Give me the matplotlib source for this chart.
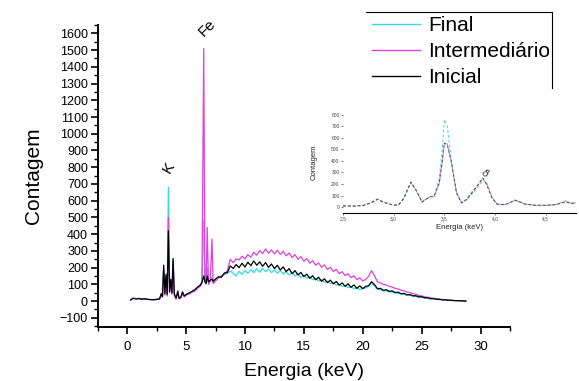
import matplotlib
matplotlib.use("Agg")
import matplotlib.pyplot as plt
from matplotlib.lines import Line2D
from matplotlib.ticker import MultipleLocator

plt.rcParams['font.family'] = ['Liberation Sans', 'DejaVu Sans']

# ---------------- main spectrum data ----------------
energy = [0.3, 0.5, 0.75, 1.0, 1.25, 1.5, 1.75, 2.0, 2.25, 2.5, 2.75, 2.9, 3.0, 3.1, 3.2, 3.3,
          3.4, 3.5, 3.6, 3.7, 3.8, 3.9, 4.0, 4.15, 4.3, 4.4, 4.55, 4.7, 4.85, 5.0, 5.25, 5.5,
          5.75, 6.0, 6.2, 6.35, 6.5, 6.6, 6.7, 6.8, 6.9, 7.05, 7.2, 7.3, 7.5,
          7.75, 8.0, 8.25, 8.5, 8.75, 9.0, 9.25, 9.5, 9.75, 10.0, 10.25, 10.5, 10.75, 11.0,
          11.25, 11.5, 11.75, 12.0, 12.25, 12.5, 12.75, 13.0, 13.25, 13.5, 13.75, 14.0, 14.25,
          14.5, 14.75, 15.0, 15.25, 15.5, 15.75, 16.0, 16.25, 16.5, 16.75, 17.0, 17.25, 17.5,
          17.75, 18.0, 18.25, 18.5, 18.75, 19.0, 19.25, 19.5, 19.75, 20.0, 20.25, 20.5, 20.75,
          21.0, 21.25, 21.5, 21.75, 22.0, 22.25, 22.5, 22.75, 23.0, 23.25, 23.5, 23.75, 24.0,
          24.25, 24.5, 24.75, 25.0, 25.25, 25.5, 25.75, 26.0, 26.25, 26.5, 26.75, 27.0, 27.25,
          27.5, 27.75, 28.0, 28.25, 28.5, 28.75]

final = [5, 18, 14, 15, 12, 13, 9, 10, 7, 11, 14, 40, 25, 200, 40, 150,
         35, 680, 60, 120, 45, 245, 40, 15, 55, 15, 20, 50, 28, 38, 46, 55,
         66, 82, 92, 110, 480, 120, 100, 200, 110, 120, 140, 115, 128,
         140, 150, 158, 165, 180, 165, 150, 178, 160, 182, 166, 188, 170, 194,
         172, 195, 176, 190, 170, 186, 166, 182, 162, 176, 156, 170, 150,
         162, 142, 154, 136, 146, 128, 137, 120, 128, 112, 119, 104, 110,
         95, 101, 87, 93, 80, 86, 73, 80, 68, 76, 78, 88, 108,
         90, 70, 68, 61, 60, 55, 54, 48, 47, 42, 41, 36, 34,
         30, 28, 24, 23, 19, 17, 14, 13, 10, 9, 7, 6, 5,
         4, 3, 2, 2, 1, 0]

intermediario = [8, 15, 16, 12, 14, 10, 11, 8, 9, 9, 12, 35, 22, 190, 35, 140,
                 30, 500, 50, 110, 40, 235, 35, 12, 50, 14, 18, 45, 25, 35, 42, 52,
                 60, 78, 88, 105, 1510, 140, 110, 440, 100, 115, 370, 105, 120,
                 138, 150, 162, 180, 250, 230, 252, 246, 268, 252, 278, 262, 292, 274,
                 302, 284, 312, 286, 306, 282, 304, 278, 298, 270, 288, 260, 278,
                 250, 266, 238, 254, 226, 242, 214, 228, 202, 216, 189, 202, 177,
                 190, 164, 176, 152, 163, 140, 151, 128, 139, 120, 130, 148, 182,
                 150, 115, 108, 100, 96, 88, 84, 76, 72, 65, 61, 54, 50,
                 44, 40, 34, 31, 26, 23, 19, 16, 13, 11, 9, 7, 6,
                 4, 3, 2, 2, 1, 0]

inicial = [6, 17, 12, 16, 11, 14, 10, 9, 8, 10, 13, 45, 28, 215, 45, 160,
           40, 420, 55, 130, 50, 255, 45, 18, 60, 17, 22, 55, 30, 40, 48, 58,
           68, 85, 95, 112, 150, 115, 105, 150, 115, 125, 130, 118, 132,
           145, 142, 168, 170, 210, 195, 218, 200, 226, 204, 232, 212, 240, 214,
           234, 208, 230, 201, 222, 194, 214, 186, 204, 176, 194, 164, 182,
           156, 171, 146, 161, 136, 151, 127, 142, 118, 133, 110, 125, 103,
           117, 95, 109, 88, 103, 82, 97, 76, 91, 74, 88, 92, 116,
           98, 74, 76, 64, 68, 58, 61, 51, 53, 44, 46, 37, 39,
           31, 32, 25, 26, 19, 20, 14, 15, 11, 11, 7, 8, 5,
           5, 3, 3, 2, 1, 0]

# ---------------- inset data ----------------
inset_energy = [2.5, 2.6, 2.7, 2.78, 2.84, 2.9, 3.0, 3.05, 3.1, 3.17, 3.22, 3.28, 3.32, 3.36,
                3.4, 3.45, 3.48, 3.5, 3.53, 3.57, 3.62, 3.67, 3.72, 3.77, 3.83, 3.88, 3.92,
                3.97, 4.02, 4.1, 4.2, 4.3, 4.4, 4.5, 4.6, 4.7, 4.75, 4.8]
inset_final = [10, 8, 15, 40, 70, 45, 15, 20, 80, 215, 150, 45, 70, 90,
               95, 250, 500, 760, 700, 400, 120, 35, 70, 130, 190, 250, 200,
               80, 25, 20, 60, 25, 15, 15, 20, 50, 30, 40]
inset_intermediario = [8, 8, 12, 35, 65, 40, 15, 18, 70, 210, 145, 45, 70, 85,
                       90, 200, 380, 540, 550, 380, 130, 40, 60, 110, 170, 230, 210,
                       90, 25, 20, 58, 25, 15, 15, 20, 55, 35, 35]
inset_inicial = [10, 8, 14, 38, 68, 42, 15, 20, 75, 218, 150, 42, 68, 88,
                 95, 210, 400, 556, 540, 390, 125, 35, 65, 120, 190, 252, 190,
                 80, 25, 20, 60, 25, 15, 15, 20, 45, 30, 38]

labels = ["Final", "Intermediário", "Inicial"]
colors = ["#30dce8", "#e040dc", "#000000"]

W, H = 579, 381
fig = plt.figure(figsize=(W / 100, H / 100), dpi=100)
ax = fig.add_axes([97.7 / W, 1 - 327 / H, (510 - 97.7) / W, (327 - 25) / H])

series = [final, intermediario, inicial]
handles = []
for s, lab, c in zip(series, labels, colors):
    h, = ax.plot(energy, s, color=c, lw=0.9, label=lab)
    handles.append(h)

ax.set_xlim(-2.5, 32.5)
ax.set_ylim(-155, 1650)
ax.xaxis.set_major_locator(MultipleLocator(5))
ax.xaxis.set_minor_locator(MultipleLocator(2.5))
ax.yaxis.set_minor_locator(MultipleLocator(50))
ax.set_yticks(range(-100, 1700, 100))
for sp in ['top', 'right']:
    ax.spines[sp].set_visible(False)
for sp in ['left', 'bottom']:
    ax.spines[sp].set_linewidth(1.4)
ax.tick_params(which='major', direction='out', length=5, width=1.2, labelsize=9,
               colors='black', pad=2)
ax.tick_params(which='minor', direction='out', length=3, width=1.0)
ax.tick_params(axis='x', labelsize=9.5, pad=5)
ax.set_xlabel("Energia (keV)", fontsize=14, labelpad=7)
ax.set_ylabel("Contagem", fontsize=15, labelpad=12)

ax.text(3.5, 800, "K", fontsize=11, rotation=60, ha='center', va='center')
ax.text(6.8, 1630, "Fe", fontsize=11, rotation=45, ha='center', va='center', clip_on=False)

# legend
leg = fig.legend(handles, labels, loc='upper left', bbox_to_anchor=(370 / W, 1 - 14 / H),
                 frameon=False, fontsize=15, handlelength=2.3, handletextpad=0.4,
                 labelspacing=0.34, borderpad=0.1, borderaxespad=0)
for lh in leg.get_lines():
    lh.set_linewidth(1.0)
fig.add_artist(Line2D([366 / W, 552 / W], [1 - 12 / H, 1 - 12 / H], color='black', lw=0.8,
                      transform=fig.transFigure))
fig.add_artist(Line2D([552 / W, 552 / W], [1 - 12 / H, 1 - 88 / H], color='black', lw=0.8,
                      transform=fig.transFigure))

# inset
ax2 = fig.add_axes([343 / W, 1 - 213 / H, 233 / W, 101.5 / H])
ax2.patch.set_alpha(0)
inset_series = [inset_final, inset_intermediario, inset_inicial]
inset_colors = ["#50d0e0", "#e080d8", "#505050"]
for s, c in zip(inset_series, inset_colors):
    ax2.plot(inset_energy, s, color=c, lw=0.7, ls=(0, (3, 2)))
ax2.set_xlim(2.5, 4.8)
ax2.set_ylim(-52, 830)
ax2.set_xticks([2.5, 3.0, 3.5, 4.0, 4.5])
ax2.set_xticklabels(["2,5", "3,0", "3,5", "4,0", "4,5"])
ax2.set_yticks(range(0, 900, 100))
for sp in ['top', 'right', 'left']:
    ax2.spines[sp].set_visible(False)
ax2.spines['bottom'].set_linewidth(0.8)
ax2.tick_params(direction='out', length=1.5, width=0.5, labelsize=3.5, colors='#444444', pad=1)
ax2.set_xlabel("Energia (keV)", fontsize=5.5, labelpad=2, color='#222222')
ax2.set_ylabel("Contagem", fontsize=5.5, labelpad=10, color='#222222')
ax2.text(3.93, 300, "Ca", fontsize=5, rotation=60, ha='center', va='center')

fig.savefig("out.png", dpi=100)
